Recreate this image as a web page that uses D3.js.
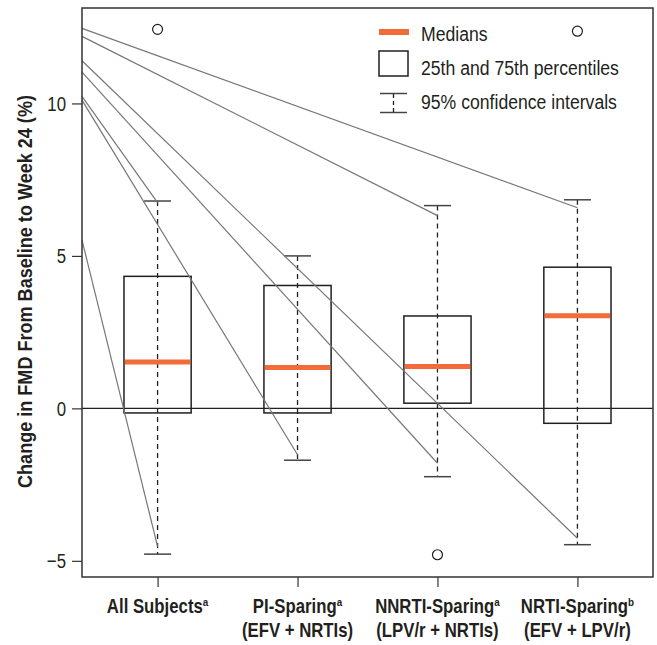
<!DOCTYPE html>
<html>
<head>
<meta charset="utf-8">
<script src="https://cdn.jsdelivr.net/npm/d3@7"></script>
<style>
  body { margin: 0; background: #fff; }
  text { font-family: "Liberation Sans", Arial, sans-serif; fill: #231f20; }
</style>
</head>
<body>
<div id="chart"></div>
<script>
// ── Data ───────────────────────────────────────────────────────────────────────
const groups    = ["All Subjects", "PI-Sparing", "NNRTI-Sparing", "NRTI-Sparing"];
const groupSup  = ["a", "a", "a", "b"];
const groupSub  = ["", "(EFV + NRTIs)", "(LPV/r + NRTIs)", "(EFV + LPV/r)"];
const ciLow     = [-4.78, -1.70, -2.24, -4.47];
const q1        = [-0.15, -0.15, 0.17, -0.49];
const medians   = [1.52, 1.34, 1.37, 3.04];
const q3        = [4.33, 4.03, 3.03, 4.63];
const ciHigh    = [6.80, 5.00, 6.65, 6.84];

const outlierGroup = ["All Subjects", "NNRTI-Sparing", "NRTI-Sparing"];
const outlierValue = [12.43, -4.80, 12.37];

// grey lines running from the y axis down to whisker ends
const leaderStart = [12.46, 12.20, 11.40, 11.03, 10.23, 10.11, 5.52];
const leaderGroup = ["NRTI-Sparing", "NNRTI-Sparing", "NRTI-Sparing", "NNRTI-Sparing",
                     "All Subjects", "PI-Sparing", "All Subjects"];
const leaderEnd   = [6.58, 6.32, -4.26, -1.80, 6.75, -1.52, -4.53];

const yTicks = [-5, 0, 5, 10];
const legendLabels = ["Medians", "25th and 75th percentiles", "95% confidence intervals"];

// ── Layout ─────────────────────────────────────────────────────────────────────
const W = 657, H = 645;
const margin = { top: 8, right: 4, bottom: 68, left: 82 };
const ORANGE = "#f26b38";

const svg = d3.select("#chart").append("svg")
    .attr("width", W).attr("height", H);

const x = d3.scalePoint()
    .domain(groups)
    .range([margin.left, W - margin.right])
    .padding(0.54);

const y = d3.scaleLinear()
    .domain([-5.53, 13.13])
    .range([H - margin.bottom, margin.top]);

const boxW = x.step() * 0.48;
const capW = 27;

// places text at (px,py) squeezed horizontally, to mimic the condensed face
function narrowAt(sel, px, py, k) {
    return sel.attr("transform", (d, i) => {
        const xx = typeof px === "function" ? px(d, i) : px;
        const yy = typeof py === "function" ? py(d, i) : py;
        return `translate(${xx},${yy}) scale(${k},1)`;
    });
}

// ── Axes ───────────────────────────────────────────────────────────────────────
const yAxis = svg.append("g")
    .attr("transform", `translate(${margin.left},0)`)
    .call(d3.axisLeft(y).tickValues(yTicks).tickSize(10).tickPadding(6).tickFormat(d3.format("d")));
yAxis.select(".domain").remove();
yAxis.selectAll("line").attr("stroke", "#333").attr("stroke-width", 1.2);
yAxis.selectAll("text")
    .attr("font-size", 21)
    .attr("fill", "#231f20")
    .attr("x", -16 / 0.8)
    .attr("transform", "scale(0.8,1)");

const xAxis = svg.append("g")
    .attr("transform", `translate(0,${H - margin.bottom})`)
    .call(d3.axisBottom(x).tickSize(10).tickFormat(""));
xAxis.select(".domain").remove();
xAxis.selectAll("line").attr("stroke", "#333").attr("stroke-width", 1.2);

// x labels (two lines, bold, superscript marks)
const xl = svg.append("g").selectAll("text.xl")
    .data(groups).enter().append("text")
    .attr("class", "xl")
    .attr("text-anchor", "middle")
    .attr("font-size", 19.5)
    .attr("font-weight", "bold")
    .call(narrowAt, d => x(d), 613, 0.86);
xl.append("tspan").text(d => d);
xl.append("tspan").attr("font-size", 11.5).attr("dy", -7).text((d, i) => groupSup[i]);

svg.append("g").selectAll("text.xl2")
    .data(groups).enter().append("text")
    .attr("text-anchor", "middle")
    .attr("font-size", 19.5)
    .attr("font-weight", "bold")
    .call(narrowAt, d => x(d), 637, 0.86)
    .text((d, i) => groupSub[i]);

// y title
svg.append("text")
    .attr("transform", `translate(32,${(margin.top + H - margin.bottom) / 2 - 1}) rotate(-90) scale(0.86,1)`)
    .attr("text-anchor", "middle")
    .attr("font-size", 21)
    .attr("font-weight", "bold")
    .text("Change in FMD From Baseline to Week 24 (%)");

// zero reference line
svg.append("line")
    .attr("x1", margin.left).attr("x2", W - margin.right)
    .attr("y1", y(0)).attr("y2", y(0))
    .attr("stroke", "#231f20").attr("stroke-width", 1.2);

// ── Boxes ──────────────────────────────────────────────────────────────────────
const box = svg.append("g").selectAll("g.box")
    .data(groups).enter().append("g").attr("class", "box");

box.append("line")
    .attr("x1", d => x(d)).attr("x2", d => x(d))
    .attr("y1", (d, i) => y(ciHigh[i])).attr("y2", (d, i) => y(ciLow[i]))
    .attr("stroke", "#231f20").attr("stroke-width", 1.3)
    .attr("stroke-dasharray", "5,4");

box.append("rect")
    .attr("x", d => x(d) - boxW / 2)
    .attr("width", boxW)
    .attr("y", (d, i) => y(q3[i]))
    .attr("height", (d, i) => y(q1[i]) - y(q3[i]))
    .attr("fill", "none")
    .attr("stroke", "#231f20").attr("stroke-width", 1.5);

[ciHigh, ciLow].forEach(arr => {
    box.append("line")
        .attr("x1", d => x(d) - capW / 2).attr("x2", d => x(d) + capW / 2)
        .attr("y1", (d, i) => y(arr[i])).attr("y2", (d, i) => y(arr[i]))
        .attr("stroke", "#444").attr("stroke-width", 1.5);
});

box.append("line")
    .attr("x1", d => x(d) - boxW / 2 + 1).attr("x2", d => x(d) + boxW / 2 - 1)
    .attr("y1", (d, i) => y(medians[i])).attr("y2", (d, i) => y(medians[i]))
    .attr("stroke", ORANGE).attr("stroke-width", 5);

// leader lines
svg.append("g").selectAll("line.leader")
    .data(leaderStart).enter().append("line")
    .attr("x1", margin.left)
    .attr("y1", d => y(d))
    .attr("x2", (d, i) => x(leaderGroup[i]))
    .attr("y2", (d, i) => y(leaderEnd[i]))
    .attr("stroke", "#777").attr("stroke-width", 1.2);

// outliers
svg.append("g").selectAll("circle")
    .data(outlierValue).enter().append("circle")
    .attr("cx", (d, i) => x(outlierGroup[i]))
    .attr("cy", d => y(d))
    .attr("r", 5)
    .attr("fill", "#fff")
    .attr("stroke", "#231f20").attr("stroke-width", 1.2);

// frame
svg.append("rect")
    .attr("x", margin.left).attr("y", margin.top)
    .attr("width", W - margin.left - margin.right)
    .attr("height", H - margin.top - margin.bottom)
    .attr("fill", "none")
    .attr("stroke", "#333").attr("stroke-width", 1.5);

// ── Legend ─────────────────────────────────────────────────────────────────────
const lg = svg.append("g").attr("transform", "translate(379,0)");
lg.append("rect").attr("x", 0).attr("y", 29).attr("width", 30).attr("height", 6).attr("fill", ORANGE);
lg.append("rect").attr("x", 0).attr("y", 51).attr("width", 29).attr("height", 25)
    .attr("fill", "none").attr("stroke", "#231f20").attr("stroke-width", 1.5);
lg.append("line").attr("x1", 1).attr("x2", 28).attr("y1", 93.5).attr("y2", 93.5).attr("stroke", "#444").attr("stroke-width", 1.5);
lg.append("line").attr("x1", 1).attr("x2", 28).attr("y1", 112.5).attr("y2", 112.5).attr("stroke", "#444").attr("stroke-width", 1.5);
lg.append("line").attr("x1", 14.5).attr("x2", 14.5).attr("y1", 94).attr("y2", 112)
    .attr("stroke", "#231f20").attr("stroke-width", 1.3).attr("stroke-dasharray", "4,3");
lg.selectAll("text").data(legendLabels).enter().append("text")
    .attr("font-size", 21)
    .call(narrowAt, 42, (d, i) => [40.5, 75, 109][i], 0.84)
    .text(d => d);
</script>
</body>
</html>
